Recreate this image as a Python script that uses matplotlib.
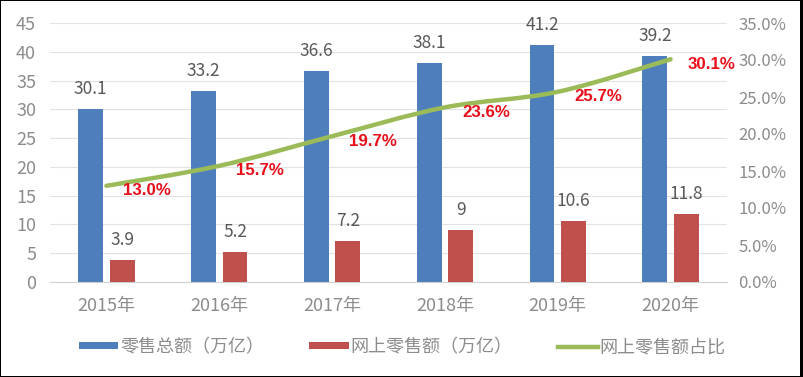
import matplotlib
matplotlib.use('Agg')
import matplotlib.pyplot as plt
from matplotlib.path import Path
from matplotlib.patches import PathPatch, Rectangle
from matplotlib.lines import Line2D
import numpy as np

plt.rcParams['font.family'] = ['Noto Sans CJK SC', 'DejaVu Sans']

# 数据
years = ['2015年', '2016年', '2017年', '2018年', '2019年', '2020年']
retail_total = [30.1, 33.2, 36.6, 38.1, 41.2, 39.2]   # 零售总额（万亿）
online_retail = [3.9, 5.2, 7.2, 9, 10.6, 11.8]        # 网上零售额（万亿）
online_share = [13.0, 15.7, 19.7, 23.6, 25.7, 30.1]   # 网上零售额占比 (%)

blue = '#4F7EBD'
red = '#C0504D'
green = '#9BBB59'
gray = '#8C8C8C'
label_gray = '#595959'

W, H = 804, 377
fig = plt.figure(figsize=(W / 100, H / 100), dpi=100)
fig.patch.set_facecolor('black')
fig.patches.append(Rectangle((1 / W, 1 / H), 799 / W, 375 / H, transform=fig.transFigure,
                             facecolor='white', edgecolor='none', zorder=-10))

ax = fig.add_axes([50 / W, 95 / H, 677 / W, 259 / H])
ax.patch.set_alpha(0)
x = np.arange(len(years))
bw = 0.22
off = 0.14

b1 = ax.bar(x - off, retail_total, bw, color=blue, zorder=3, label='零售总额（万亿）')
b2 = ax.bar(x + off, online_retail, bw, color=red, zorder=3, label='网上零售额（万亿）')

for xi, v in zip(x - off, retail_total):
    ax.annotate(f'{v:g}', (xi, v), xytext=(0, 20), textcoords='offset pixels',
                ha='center', va='center', fontsize=12.5, color=label_gray)
for xi, v in zip(x + off, online_retail):
    ax.annotate(f'{v:g}', (xi, v), xytext=(0, 20), textcoords='offset pixels',
                ha='center', va='center', fontsize=12.5, color=label_gray)

ax.set_xlim(-0.5, len(years) - 0.5)
ax.set_ylim(0, 45)
ax.set_yticks(range(0, 46, 5))
ax.set_xticks(x)
ax.set_xticklabels(years)
ax.grid(axis='y', color='#E3E3E3', linewidth=0.8, zorder=0)
for s in ['top', 'right', 'left']:
    ax.spines[s].set_visible(False)
ax.spines['bottom'].set_color('#D0D0D0')
ax.tick_params(axis='both', length=0, colors=gray, labelsize=13)
ax.tick_params(axis='y', pad=10)
ax.tick_params(axis='x', pad=11)

ax2 = ax.twinx()
ax2.set_ylim(0, 35)
ax2.set_yticks(range(0, 36, 5))
ax2.set_yticklabels([f'{t:.1f}%' for t in range(0, 36, 5)])
for s in ax2.spines.values():
    s.set_visible(False)
ax2.tick_params(axis='y', length=0, colors=gray, labelsize=12, pad=8)

# 平滑曲线 (Catmull-Rom -> Bezier)
pts = np.column_stack([x, online_share]).astype(float)
verts = [tuple(pts[0])]
codes = [Path.MOVETO]
n = len(pts)
for i in range(n - 1):
    p0 = pts[max(i - 1, 0)]
    p1 = pts[i]
    p2 = pts[i + 1]
    p3 = pts[min(i + 2, n - 1)]
    c1 = p1 + (p2 - p0) / 6
    c2 = p2 - (p3 - p1) / 6
    verts += [tuple(c1), tuple(c2), tuple(p2)]
    codes += [Path.CURVE4] * 3
ax2.add_patch(PathPatch(Path(verts, codes), facecolor='none', edgecolor=green,
                        linewidth=3.2, capstyle='round', zorder=4))

for xi, v in zip(x, online_share):
    ax2.annotate(f'{v:.1f}%', (xi, v), xytext=(17, -5), textcoords='offset pixels',
                 ha='left', va='center', fontsize=12.2, color='#E8101B',
                 fontweight='bold', family=['Liberation Sans', 'DejaVu Sans'], zorder=5)

handles = [b1, b2, Line2D([], [], color=green, linewidth=3.2)]
labels = ['零售总额（万亿）', '网上零售额（万亿）', '网上零售额占比']
leg = fig.legend(handles, labels, loc='center', bbox_to_anchor=(0.5, 30 / H), ncol=3,
                 frameon=False, fontsize=13, handlelength=2.2, handleheight=0.3,
                 handletextpad=0.1, columnspacing=2.5)
for t in leg.get_texts():
    t.set_color(gray)

fig.savefig('out.png', dpi=100, facecolor=fig.get_facecolor())
